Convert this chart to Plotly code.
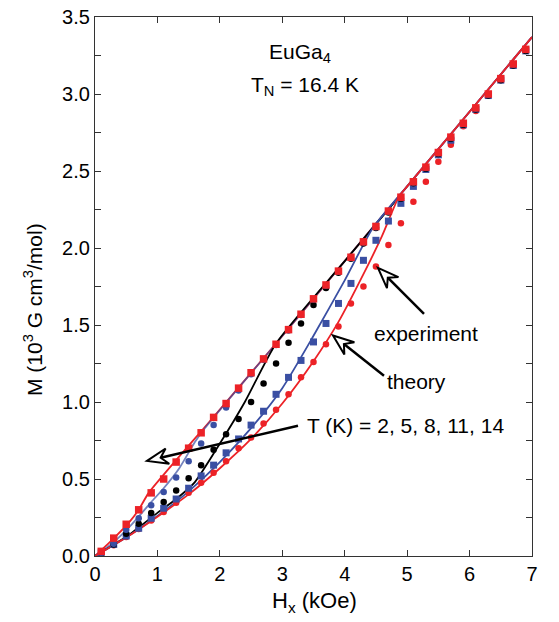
import plotly.graph_objects as go

# ---------------- data ----------------
H_exp = [0.1, 0.3, 0.5, 0.7, 0.9, 1.1, 1.3, 1.5, 1.7, 1.9, 2.1, 2.3, 2.5, 2.7, 2.9,
         3.1, 3.3, 3.5, 3.7, 3.9, 4.1, 4.3, 4.5, 4.7, 4.9, 5.1, 5.3, 5.5, 5.7, 5.9,
         6.1, 6.3, 6.5, 6.7, 6.9]

M_exp_14K = [0.03, 0.116, 0.206, 0.30, 0.41, 0.50, 0.61, 0.70, 0.80, 0.90, 0.99, 1.09, 1.19, 1.28, 1.375,
             1.47, 1.57, 1.67, 1.76, 1.85, 1.94, 2.04, 2.14, 2.24, 2.33, 2.43, 2.525, 2.62, 2.72, 2.81,
             2.91, 3.00, 3.10, 3.195, 3.29]
M_exp_11K = [0.02, 0.08, 0.17, 0.245, 0.33, 0.415, 0.51, 0.615, 0.73, 0.85, 0.965, 1.075, 1.18, 1.275, 1.37,
             1.465, 1.565, 1.665, 1.755, 1.845, 1.935, 2.035, 2.135, 2.235, 2.325, 2.425, 2.52, 2.615, 2.715, 2.805,
             2.905, 2.995, 3.095, 3.19, 3.285]
M_exp_8K = [0.02, 0.075, 0.145, 0.21, 0.28, 0.35, 0.425, 0.505, 0.59, 0.69, 0.79, 0.89, 1.00, 1.12, 1.25,
            1.385, 1.51, 1.63, 1.74, 1.84, 1.93, 2.03, 2.13, 2.23, 2.32, 2.42, 2.515, 2.61, 2.71, 2.80,
            2.90, 2.99, 3.09, 3.185, 3.28]
M_exp_5K = [0.02, 0.075, 0.13, 0.18, 0.245, 0.31, 0.37, 0.44, 0.52, 0.59, 0.67, 0.76, 0.85, 0.94, 1.05,
            1.16, 1.27, 1.39, 1.51, 1.64, 1.77, 1.92, 2.05, 2.175, 2.29, 2.40, 2.51, 2.605, 2.70, 2.80,
            2.90, 2.99, 3.09, 3.185, 3.28]
M_exp_2K = [0.02, 0.07, 0.123, 0.176, 0.23, 0.286, 0.346, 0.41, 0.475, 0.54, 0.615, 0.70, 0.77, 0.86, 0.95,
            1.05, 1.16, 1.26, 1.375, 1.49, 1.64, 1.75, 1.88, 2.02, 2.16, 2.30, 2.43, 2.56, 2.67, 2.79,
            2.89, 3.00, 3.10, 3.19, 3.29]

H_th_14K = [0, 0.3, 0.53, 0.7, 0.86, 1.85, 2.9, 4.0, 5.0, 6.0, 7.0]
M_th_14K = [0, 0.115, 0.21, 0.30, 0.41, 0.88, 1.38, 1.915, 2.40, 2.885, 3.37]
H_th_11K = [0, 0.3, 0.6, 0.9, 1.1, 1.35, 1.6, 1.75, 2.9, 4.0, 5.0, 6.0, 7.0]
M_th_11K = [0, 0.09, 0.21, 0.35, 0.44, 0.57, 0.74, 0.825, 1.38, 1.915, 2.40, 2.885, 3.37]
H_th_8K = [0, 0.5, 1.0, 1.3, 1.6, 2.0, 2.4, 2.9, 4.0, 4.8]
M_th_8K = [0, 0.125, 0.28, 0.37, 0.48, 0.73, 1.0, 1.38, 1.915, 2.30]
H_th_5K = [0, 0.5, 1.0, 1.5, 2.0, 2.5, 3.0, 3.5, 4.0, 4.45, 5.0, 6.0, 7.0]
M_th_5K = [0, 0.12, 0.26, 0.42, 0.61, 0.83, 1.09, 1.43, 1.79, 2.13, 2.40, 2.885, 3.37]
H_th_2K = [0, 0.5, 1.0, 1.5, 2.0, 2.5, 3.0, 3.5, 3.9, 4.3, 4.6, 4.87, 5.0, 6.0, 7.0]
M_th_2K = [0, 0.12, 0.255, 0.40, 0.57, 0.76, 0.99, 1.265, 1.52, 1.83, 2.08, 2.335, 2.40, 2.885, 3.37]

y_tickvals = [0, 0.5, 1.0, 1.5, 2.0, 2.5, 3.0, 3.5]
y_ticktext = ["0.0", "0.5", "1.0", "1.5", "2.0", "2.5", "3.0", "3.5"]
x_tickvals = [0, 1, 2, 3, 4, 5, 6, 7]
x_ticktext = ["0", "1", "2", "3", "4", "5", "6", "7"]

RED = "#ec2227"
BLUE = "#3a4fa3"
BLACK = "#000000"
FONT = "Liberation Sans, Arial, Helvetica, sans-serif"

# ---------------- geometry helpers ----------------
W, Hh = 559, 622
L, R, T, B = 95, 27, 6, 66
XMAX, YMAX = 7.0, 3.5
pw, ph = W - L - R, Hh - T - B


def px2d(px, py):
    return ((px - L) / pw * XMAX, (Hh - B - py) / ph * YMAX)


fig = go.Figure()

# theory lines
for hx, my, col, op in [(H_th_14K, M_th_14K, RED, 1.0),
                        (H_th_11K, M_th_11K, BLUE, 0.7),
                        (H_th_8K, M_th_8K, BLACK, 1.0),
                        (H_th_5K, M_th_5K, BLUE, 1.0),
                        (H_th_2K, M_th_2K, RED, 1.0)]:
    fig.add_trace(go.Scatter(x=hx, y=my, mode="lines", line=dict(color=col, width=1.8, shape="spline", smoothing=0.6),
                             opacity=op, showlegend=False, hoverinfo="skip"))

# experiment markers
for my, col, sym, sz in [(M_exp_2K, RED, "circle", 6.5),
                         (M_exp_5K, BLUE, "square", 7),
                         (M_exp_8K, BLACK, "circle", 6.5),
                         (M_exp_11K, BLUE, "circle", 6.5),
                         (M_exp_14K, RED, "square", 7.5)]:
    fig.add_trace(go.Scatter(x=H_exp, y=my, mode="markers",
                             marker=dict(color=col, symbol=sym, size=sz, line=dict(width=0)),
                             showlegend=False, hoverinfo="skip"))

shapes = []


def arrow(tail, tip, hl=21, hw=8, notch=7):
    tx, ty = tail
    px_, py_ = tip
    dx, dy = px_ - tx, py_ - ty
    n = (dx * dx + dy * dy) ** 0.5
    ux, uy = dx / n, dy / n
    nx, ny = -uy, ux
    bx, by = px_ - ux * hl, py_ - uy * hl
    w1 = (bx + nx * hw, by + ny * hw)
    w2 = (bx - nx * hw, by - ny * hw)
    nt = (px_ - ux * (hl - notch), py_ - uy * (hl - notch))
    s0 = px2d(tx, ty)
    s1 = px2d(*nt)
    shapes.append(dict(type="line", xref="x", yref="y", x0=s0[0], y0=s0[1], x1=s1[0], y1=s1[1],
                       line=dict(color="black", width=2.5)))
    pts = [px2d(px_, py_), px2d(*w1), px2d(*nt), px2d(*w2)]
    path = "M " + " L ".join(f"{a:.4f},{b:.4f}" for a, b in pts) + " Z"
    shapes.append(dict(type="path", xref="x", yref="y", path=path, fillcolor="white",
                       line=dict(color="black", width=2)))


arrow((424, 309), (378, 262))
arrow((384, 372), (333, 331))
arrow((298, 423), (147, 459))

fig.update_layout(shapes=shapes)

annots = []


def text_at(px, py, txt, size=21, anchor="center", angle=0):
    x, y = px2d(px, py)
    annots.append(dict(x=x, y=y, xref="x", yref="y", text=txt, showarrow=False,
                       xanchor=anchor, yanchor="middle", textangle=angle,
                       font=dict(family=FONT, size=size, color="black")))


text_at(300, 43, "EuGa<sub>4</sub>")
text_at(305, 76, "T<sub>N</sub> = 16.4 K")
text_at(372, 329, "experiment", anchor="left")
text_at(385, 378, "theory", anchor="left")
text_at(305, 423, "T (K) = 2, 5, 8, 11, 14", anchor="left")

fig.update_layout(annotations=annots)
fig.add_annotation(x=(314 - L) / pw, y=-(603 - (Hh - B)) / ph, xref="paper", yref="paper",
                   text="H<sub>x</sub> (kOe)", showarrow=False, xanchor="center", yanchor="middle",
                   font=dict(family=FONT, size=22, color="black"))
fig.add_annotation(x=-(L - 33) / pw, y=(Hh - B - 305) / ph, xref="paper", yref="paper",
                   text="M (10<sup>3</sup> G cm<sup>3</sup>/mol)", showarrow=False, textangle=-90,
                   xanchor="center", yanchor="middle",
                   font=dict(family=FONT, size=21, color="black"))

axis_common = dict(showline=True, linecolor="#333333", linewidth=1.3, mirror="ticks",
                   ticks="inside", ticklen=6, tickwidth=1.2, tickcolor="#333333",
                   showgrid=False, zeroline=False, ticklabeloverflow="allow",
                   tickfont=dict(family=FONT, size=20, color="black"))

fig.update_xaxes(range=[0, XMAX], tickvals=x_tickvals, ticktext=x_ticktext, **axis_common)
fig.update_yaxes(range=[0, YMAX], tickvals=y_tickvals, ticktext=y_ticktext,
                 minor=dict(dtick=0.25, ticks="inside", ticklen=6, tickwidth=1.2, tickcolor="#333333",
                            showgrid=False),
                 **axis_common)

fig.update_layout(width=W, height=Hh, margin=dict(l=L, r=R, t=T, b=B, pad=0),
                  paper_bgcolor="white", plot_bgcolor="white", showlegend=False)

fig.write_html("out.html", config={"displayModeBar": False},
               post_script="document.body.style.margin='0px';document.body.style.overflow='hidden';")
